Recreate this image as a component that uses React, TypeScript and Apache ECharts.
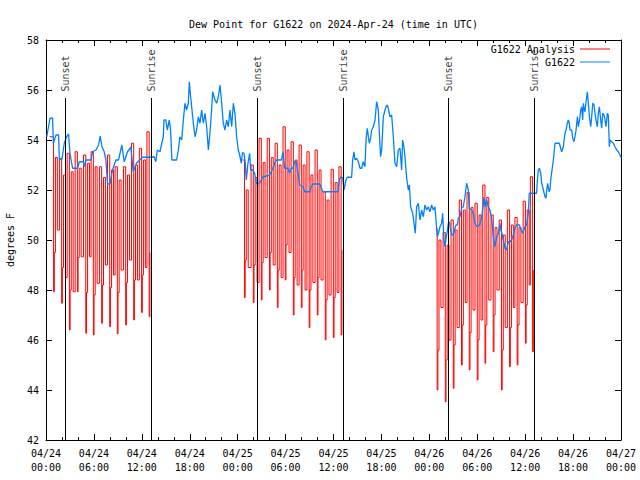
import React, { useEffect, useRef } from 'react';
import * as echarts from 'echarts';

const FONT = '"DejaVu Sans Mono", "Liberation Mono", monospace';

// x values are hours since 2024-04-24 00:00 UTC
const xTickHours = [0, 6, 12, 18, 24, 30, 36, 42, 48, 54, 60, 66, 72];

const blueTimes = [
  0.1, 0.5, 0.83, 0.92, 1.25, 1.58, 1.67, 2.0, 2.29, 2.58, 2.83, 3.0, 3.33, 3.96, 4.17, 4.67, 4.79, 5.0, 5.63, 5.83,
  6.25, 6.58, 6.79, 7.0, 7.29, 7.5, 7.71, 8.0, 8.33, 8.75, 9.08, 9.5, 9.79, 10.21, 10.63, 10.92, 11.33, 12.08, 12.92, 13.54,
  13.75, 13.94, 14.27, 14.4, 14.69, 14.77, 15.0, 15.19, 15.44, 15.6, 15.77, 16.36, 16.57, 16.77, 16.99, 17.2, 17.4, 17.6, 17.82, 17.95,
  18.03, 18.24, 18.45, 18.66, 18.86, 19.07, 19.28, 19.49, 19.7, 19.91, 20.12, 20.33, 20.53, 20.74, 20.87, 21.16, 21.37, 21.58, 21.79, 22.0,
  22.2, 22.41, 22.62, 22.83, 23.04, 23.25, 23.46, 23.66, 23.87, 24.08, 24.25, 24.46, 24.6, 24.8, 24.96, 25.08, 25.29, 25.5, 25.63, 25.9,
  26.13, 26.34, 26.54, 26.75, 26.96, 27.17, 28.0, 28.21, 28.42, 28.63, 28.84, 29.47, 29.67, 29.77, 29.88, 30.3, 30.51, 30.72, 30.92, 31.13,
  31.34, 31.47, 31.76, 32.18, 32.39, 33.01, 33.22, 33.43, 34.27, 34.68, 36.56, 36.73, 36.9, 37.15, 37.31, 37.56, 37.73, 38.27, 38.4, 38.56,
  38.69, 38.9, 39.11, 39.32, 39.52, 39.73, 39.94, 40.07, 40.23, 40.48, 40.65, 40.78, 40.99, 41.2, 41.4, 41.61, 41.74, 41.9, 42.03, 42.24,
  42.45, 42.57, 42.74, 42.86, 43.07, 43.28, 43.49, 43.7, 43.91, 44.12, 44.33, 44.53, 44.66, 44.82, 44.95, 45.16, 45.37, 45.5, 45.66, 45.91,
  46.08, 46.24, 46.41, 46.62, 46.83, 47.04, 47.25, 47.45, 47.66, 47.87, 48.08, 48.29, 48.5, 48.71, 48.83, 49.0, 49.17, 49.33, 49.54, 49.67,
  49.83, 49.96, 50.1, 50.25, 50.38, 50.5, 50.67, 50.83, 51.0, 51.21, 51.34, 51.5, 51.63, 51.84, 52.04, 52.25, 52.46, 52.67, 52.88, 53.0,
  53.3, 53.5, 53.71, 53.92, 54.3, 54.55, 54.67, 54.84, 54.96, 55.17, 55.38, 55.59, 55.8, 56.01, 56.22, 56.43, 56.64, 56.84, 56.96, 57.09,
  57.26, 57.47, 57.68, 57.89, 58.1, 58.3, 58.51, 58.72, 58.93, 59.27, 59.43, 59.68, 59.85, 59.97, 60.18, 60.39, 60.52, 61.44, 61.53, 61.65,
  61.78, 61.95, 62.07, 62.28, 62.49, 62.61, 62.7, 62.82, 62.99, 63.1, 63.2, 63.36, 63.53, 63.74, 64.28, 64.45, 64.57, 64.78, 64.99, 65.12,
  65.28, 65.41, 65.53, 65.62, 65.83, 65.95, 66.12, 66.24, 66.37, 66.54, 66.66, 66.87, 66.95, 67.08, 67.2, 67.29, 67.41, 67.5, 67.62, 67.79,
  67.91, 68.04, 68.21, 68.33, 68.46, 68.62, 68.75, 68.87, 69.04, 69.16, 69.29, 69.46, 69.58, 69.71, 69.88, 70.0, 70.12, 70.29, 70.41, 70.54,
  70.63, 70.83, 71.04, 71.25, 71.46, 71.67, 71.88, 72.0,
];
const blueValues = [
  54.13, 54.87, 54.87, 53.87, 54.2, 54.2, 53.23, 53.23, 53.87, 54.13, 54.24, 53.47, 52.87, 52.87, 53.13, 53.13, 52.93, 53.2, 53.2, 53.53,
  53.6, 53.8, 54.16, 53.73, 53.53, 53.2, 52.24, 52.24, 52.8, 53.2, 53.2, 53.8, 53.13, 53.53, 53.71, 52.73, 53.07, 53.31, 53.31, 53.33,
  53.13, 53.6, 53.53, 53.73, 54.13, 54.8, 54.8, 54.4, 54.8, 54.4, 53.2, 53.2, 53.6, 54.13, 54.0, 54.8, 55.47, 55.2, 55.47, 56.33,
  56.0, 55.33, 54.67, 54.13, 54.4, 54.93, 54.67, 55.2, 54.67, 55.07, 54.53, 53.6, 54.27, 55.2, 55.93, 55.6, 55.47, 55.73, 56.2, 55.47,
  54.67, 54.4, 54.8, 54.53, 55.2, 54.53, 55.47, 55.07, 54.13, 53.6, 53.4, 53.07, 53.5, 53.47, 53.07, 52.4, 53.07, 53.47, 52.8, 52.8,
  52.67, 52.27, 52.24, 52.27, 52.4, 52.53, 52.59, 52.73, 52.87, 53.07, 53.2, 53.2, 53.53, 53.2, 52.87, 52.87, 52.67, 52.87, 52.87, 53.13,
  53.13, 52.87, 52.2, 52.13, 51.93, 51.93, 52.13, 52.24, 52.24, 51.93, 51.93, 52.4, 52.53, 52.5, 52.0, 52.4, 52.51, 52.51, 53.2, 53.53,
  53.2, 53.27, 53.13, 52.87, 52.87, 53.13, 52.93, 54.0, 54.47, 53.87, 54.07, 54.4, 54.53, 54.8, 55.53, 55.2, 54.27, 53.33, 53.6, 54.93,
  55.2, 55.33, 55.4, 55.27, 54.93, 55.0, 54.13, 53.07, 52.93, 53.6, 53.67, 52.8, 54.0, 53.73, 53.33, 52.47, 52.0, 52.2, 51.33, 51.07,
  50.67, 50.27, 51.33, 51.47, 50.8, 51.2, 50.93, 51.4, 51.2, 51.33, 51.13, 51.4, 51.2, 51.33, 50.8, 50.13, 50.3, 50.53, 50.67, 51.07,
  50.0, 49.73, 50.07, 50.33, 50.67, 50.73, 50.4, 50.2, 50.2, 50.47, 50.6, 50.6, 50.87, 50.93, 51.27, 51.33, 51.73, 52.27, 52.0, 51.27,
  51.2, 51.07, 50.67, 50.53, 50.6, 50.93, 51.2, 51.73, 51.33, 51.6, 51.33, 51.2, 50.87, 50.13, 49.73, 50.13, 50.27, 50.67, 50.4, 50.27,
  50.0, 49.67, 49.6, 49.93, 49.93, 50.0, 50.2, 50.47, 50.6, 50.6, 50.47, 50.27, 50.4, 50.53, 50.6, 51.07, 51.87, 51.87, 52.4, 52.8,
  52.87, 52.67, 52.27, 52.0, 51.73, 51.67, 52.0, 52.27, 51.93, 52.0, 52.4, 52.8, 53.2, 53.87, 53.87, 53.67, 53.53, 53.73, 54.27, 54.4,
  54.67, 54.8, 54.67, 54.4, 54.4, 54.07, 53.93, 54.13, 54.4, 54.93, 54.53, 54.93, 55.2, 55.33, 54.8, 55.47, 55.2, 55.13, 55.53, 55.93,
  55.47, 54.93, 54.53, 54.93, 55.47, 55.4, 55.07, 54.8, 54.53, 55.07, 55.33, 54.8, 54.47, 55.07, 55.0, 54.8, 54.53, 55.07, 55.0, 53.73,
  54.0, 53.93, 53.87, 53.73, 53.6, 53.53, 53.4, 53.3,
];

// G1622 Analysis: three overnight runs. Per hourly cycle: high (held), drop to low,
// short rise, rise to upper level, fall to mid level.
const seg1Start = 0.45;
const seg1LowTimes = [0.95, 1.96, 2.93, 3.93, 4.98, 5.93, 6.97, 7.98, 8.93, 9.98, 10.98, 11.97, 12.92];
const seg1High = [54.13, 53.27, 53.47, 53.53, 53.4, 53.53, 52.93, 53.4, 52.93, 52.93, 53.87, 53.67, 54.33];
const seg1Low = [47.93, 47.47, 46.4, 47.93, 46.27, 46.2, 46.67, 46.53, 46.25, 46.6, 46.8, 47.1, 46.93];
const seg1Rise = [49.5, 48.9, 48.0, 49.3, 47.9, 47.8, 48.2, 48.1, 47.9, 48.3, 48.4, 48.6, 49.5];
const seg1Up = [53.3, 52.6, 52.73, 52.87, 53.07, 52.93, 52.5, 52.8, 52.4, 52.6, 53.0, 53.2, null];
const seg1Down = [50.4, 48.5, 47.93, 49.33, 49.33, 48.27, 49.0, 48.6, 48.8, 49.2, 48.4, 48.9, null];

const seg2Start = 24.62;
const seg2LowTimes = [24.85, 25.96, 26.96, 27.98, 28.97, 29.96, 30.97, 31.97, 32.95, 33.97, 34.97, 35.98, 36.96];
const seg2High = [53.2, 53.0, 54.07, 54.07, 53.87, 54.53, 53.93, 53.8, 53.53, 53.6, 51.93, 52.83, 52.93];
const seg2Low = [47.7, 47.5, 47.6, 48.0, 47.3, 48.4, 47.0, 47.3, 46.5, 47.0, 46.0, 46.1, 46.2];
const seg2Rise = [49.2, 49.0, 49.1, 49.5, 48.8, 49.8, 48.5, 48.8, 48.0, 48.5, 47.6, 47.7, 49.6];
const seg2Up = [52.0, 52.5, 53.1, 53.3, 53.0, 53.6, 53.2, 53.0, 52.6, 52.8, 51.6, 52.3, null];
const seg2Down = [48.9, 48.3, 49.3, 49.0, 48.5, 49.5, 48.2, 48.0, 48.3, 48.4, 47.8, 47.9, null];

const seg3Start = 48.8;
const seg3LowTimes = [48.98, 50.0, 51.0, 52.03, 53.0, 54.0, 54.97, 56.0, 57.03, 58.05, 59.0, 60.03, 60.93];
const seg3High = [50.45, 50.3, 50.8, 51.6, 51.9, 51.47, 52.2, 51.0, 50.8, 51.2, 50.9, 51.55, 52.53];
const seg3Low = [44.0, 43.53, 44.07, 45.0, 44.8, 44.4, 45.07, 45.53, 44.0, 44.93, 45.0, 45.87, 45.53];
const seg3Rise = [45.6, 45.2, 45.8, 46.6, 46.3, 46.0, 46.6, 47.0, 45.6, 46.5, 46.6, 47.4, 48.8];
const seg3Up = [50.0, 49.8, 50.4, 51.2, 51.3, 51.0, 51.7, 50.5, 50.2, 50.6, 50.5, 51.2, null];
const seg3Down = [47.3, 46.0, 46.5, 47.5, 47.2, 46.8, 47.6, 48.0, 46.5, 47.3, 47.5, 48.2, null];

const sunNames = ['Sunset', 'Sunrise', 'Sunset', 'Sunrise', 'Sunset', 'Sunrise'];
const sunTimes = [2.38, 13.15, 26.46, 37.23, 50.38, 61.15];
const sunLineTop = 55.68;
const sunLabelBase = 55.9;

function buildRed(
  start: number,
  lowTimes: number[],
  highs: number[],
  lows: number[],
  rises: number[],
  ups: (number | null)[],
  downs: (number | null)[]
) {
  const pts: number[][] = [];
  for (let i = 0; i < lowTimes.length; i++) {
    const hStart = i === 0 ? start : lowTimes[i] - 0.28;
    pts.push([hStart, highs[i]]);
    pts.push([lowTimes[i], lows[i]]);
    pts.push([lowTimes[i] + 0.09, rises[i]]);
    const u = ups[i];
    if (u !== null) pts.push([lowTimes[i] + 0.23, u]);
    const d = downs[i];
    if (d !== null) pts.push([lowTimes[i] + 0.47, d]);
  }
  return pts;
}

const LINE_ICON = 'path://M0,0 L30,0 L30,1 L0,1 Z';

export default function App() {
  const ref = useRef<HTMLDivElement>(null);
  useEffect(() => {
    document.body.style.margin = '0';
    if (!ref.current) return;
    const chart = echarts.init(ref.current, undefined, { renderer: 'svg' });
    const txt = { fontFamily: FONT, fontSize: 10, color: '#000' };
    const redSegs = [
      buildRed(seg1Start, seg1LowTimes, seg1High, seg1Low, seg1Rise, seg1Up, seg1Down),
      buildRed(seg2Start, seg2LowTimes, seg2High, seg2Low, seg2Rise, seg2Up, seg2Down),
      buildRed(seg3Start, seg3LowTimes, seg3High, seg3Low, seg3Rise, seg3Up, seg3Down),
    ];
    const xFmt = (v: number) => {
      const d = 24 + Math.floor(v / 24);
      const h = v % 24;
      return `04/${d}\n${String(h).padStart(2, '0')}:00`;
    };
    const axisLineStyle = { color: '#000', width: 1 };
    const option: any = {
      animation: false,
      backgroundColor: '#fff',
      title: {
        text: 'Dew Point for G1622 on 2024-Apr-24 (time in UTC)',
        left: 184,
        top: 14,
        textStyle: { ...txt, fontWeight: 'normal' },
      },
      legend: {
        data: [
          { name: 'G1622 Analysis', icon: LINE_ICON, itemStyle: { color: '#ff0000' } },
          { name: 'G1622', icon: LINE_ICON, itemStyle: { color: '#0080ff' } },
        ],
        orient: 'vertical',
        align: 'right',
        right: 25,
        top: 39,
        itemWidth: 30,
        itemHeight: 10,
        itemGap: 3,
        textStyle: txt,
      },
      grid: { left: 46, right: 19, top: 40, bottom: 40, containLabel: false, outerBoundsMode: 'none' },
      xAxis: [
        {
          type: 'value',
          min: 0,
          max: 72,
          interval: 6,
          position: 'bottom',
          axisLine: { show: true, onZero: false, lineStyle: axisLineStyle },
          axisTick: { show: true, inside: true, length: 6, lineStyle: axisLineStyle },
          minorTick: { show: true, splitNumber: 3, length: 3, lineStyle: axisLineStyle },
          splitLine: { show: false },
          axisLabel: { ...txt, formatter: xFmt, lineHeight: 14, margin: 6, showMinLabel: true, showMaxLabel: true },
          data: xTickHours,
        },
        {
          type: 'value',
          min: 0,
          max: 72,
          interval: 6,
          position: 'top',
          axisLine: { show: true, onZero: false, lineStyle: axisLineStyle },
          axisTick: { show: true, inside: true, length: 6, lineStyle: axisLineStyle },
          minorTick: { show: true, splitNumber: 3, length: 3, lineStyle: axisLineStyle },
          splitLine: { show: false },
          axisLabel: { show: false },
        },
      ],
      yAxis: [
        {
          type: 'value',
          min: 42,
          max: 58,
          interval: 2,
          position: 'left',
          name: 'degrees F',
          nameLocation: 'middle',
          nameGap: 31,
          nameTextStyle: txt,
          axisLine: { show: true, onZero: false, lineStyle: axisLineStyle },
          axisTick: { show: true, inside: true, length: 6, lineStyle: axisLineStyle },
          splitLine: { show: false },
          axisLabel: { ...txt, margin: 7 },
        },
        {
          type: 'value',
          min: 42,
          max: 58,
          interval: 2,
          position: 'right',
          axisLine: { show: true, onZero: false, lineStyle: axisLineStyle },
          axisTick: { show: true, inside: true, length: 6, lineStyle: axisLineStyle },
          splitLine: { show: false },
          axisLabel: { show: false },
        },
      ],
      series: [
        ...redSegs.map((seg) => ({
          name: 'G1622 Analysis',
          type: 'line',
          step: 'end',
          data: seg,
          showSymbol: false,
          symbol: 'none',
          color: '#ff0000',
          lineStyle: { color: '#ff0000', width: 1 },
          z: 2,
        })),
        {
          name: 'G1622',
          type: 'line',
          data: blueTimes.map((t, i) => [t, blueValues[i]]),
          showSymbol: false,
          symbol: 'none',
          color: '#0080ff',
          lineStyle: { color: '#0080ff', width: 1.3 },
          z: 3,
        },
        {
          name: 'sun',
          type: 'scatter',
          symbolSize: 1,
          itemStyle: { color: 'rgba(0,0,0,0)' },
          z: 4,
          data: sunTimes.map((t, i) => ({ value: [t, sunLabelBase], name: sunNames[i] })),
          label: {
            show: true,
            position: 'inside',
            formatter: (p: any) => p.name,
            rotate: 90,
            align: 'left',
            verticalAlign: 'middle',
            offset: [1, 0],
            ...txt,
          },
          markLine: {
            silent: true,
            symbol: 'none',
            label: { show: false },
            lineStyle: { color: '#000', width: 1, type: 'solid' },
            data: sunTimes.map((t) => [{ coord: [t, sunLineTop] }, { coord: [t, 42] }]),
          },
        },
      ],
    };
    chart.setOption(option);
    return () => chart.dispose();
  }, []);
  return <div ref={ref} style={{ width: 640, height: 480 }} />;
}
